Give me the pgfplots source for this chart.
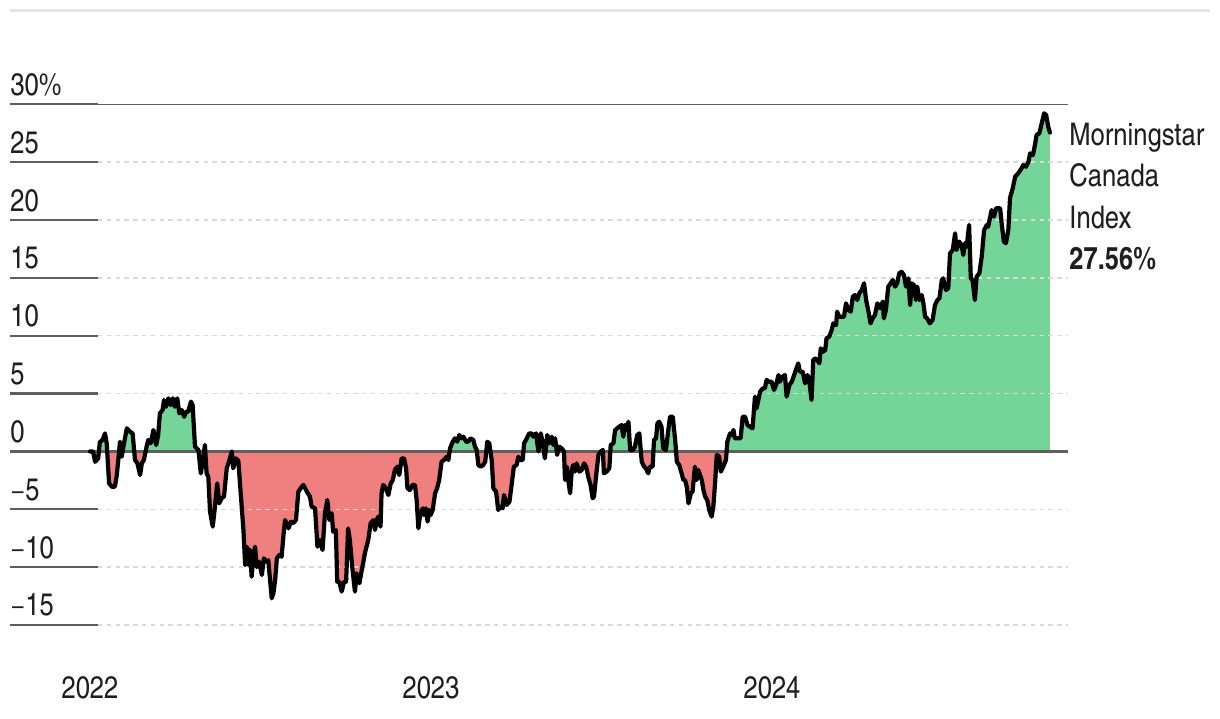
\documentclass[border=0pt]{standalone}
\usepackage{fontspec}
\setmainfont{texgyreheroscn}[Extension=.otf, UprightFont=*-regular, BoldFont=*-bold, ItalicFont=*-italic, BoldItalicFont=*-bolditalic]
\usepackage{pgfplots}
\pgfplotsset{compat=1.18}
\usepackage{pgfplotstable}
\definecolor{upgreen}{RGB}{117,212,152}
\definecolor{downred}{RGB}{240,128,128}
\definecolor{stubgray}{RGB}{95,95,95}
\definecolor{gridgray}{RGB}{218,218,218}
\definecolor{topgray}{RGB}{228,228,228}
\definecolor{txt}{RGB}{30,30,30}

\pgfplotstableread{
t v
2022.000 0.00
2022.009 0.00
2022.015 -0.90
2022.024 -0.60
2022.029 0.80
2022.037 0.99
2022.044 1.56
2022.049 0.70
2022.056 -2.76
2022.064 -3.05
2022.073 -3.05
2022.078 -2.18
2022.083 -0.74
2022.088 0.84
2022.093 -0.46
2022.098 0.41
2022.108 2.00
2022.117 1.70
2022.125 1.56
2022.132 -0.74
2022.139 -1.03
2022.147 -2.04
2022.152 -1.03
2022.158 -0.74
2022.166 0.41
2022.171 0.99
2022.178 0.70
2022.186 1.85
2022.194 0.55
2022.200 1.42
2022.205 3.29
2022.213 3.58
2022.217 4.44
2022.223 3.86
2022.230 4.59
2022.237 4.00
2022.243 4.59
2022.249 3.86
2022.256 4.59
2022.262 3.29
2022.269 3.58
2022.276 3.00
2022.282 3.43
2022.288 3.43
2022.296 4.30
2022.301 4.00
2022.308 0.41
2022.318 0.12
2022.325 -1.90
2022.330 -1.03
2022.337 0.55
2022.342 -1.90
2022.347 -2.18
2022.352 -5.20
2022.360 -6.50
2022.367 -4.63
2022.373 -2.76
2022.379 -4.49
2022.386 -4.05
2022.393 -3.90
2022.401 -1.46
2022.409 -0.74
2022.416 0.00
2022.420 -1.46
2022.428 -0.60
2022.435 -0.80
2022.442 -3.62
2022.450 -6.80
2022.455 -9.82
2022.460 -8.24
2022.464 -9.80
2022.469 -8.50
2022.474 -10.83
2022.479 -9.10
2022.484 -8.24
2022.489 -10.00
2022.496 -9.53
2022.504 -10.68
2022.510 -9.24
2022.518 -9.53
2022.523 -9.40
2022.528 -11.10
2022.533 -12.70
2022.538 -12.26
2022.543 -11.10
2022.548 -9.24
2022.555 -8.95
2022.562 -9.10
2022.567 -7.37
2022.572 -5.93
2022.582 -6.65
2022.589 -6.08
2022.596 -6.20
2022.604 -5.93
2022.611 -3.48
2022.621 -3.05
2022.626 -2.90
2022.636 -3.48
2022.645 -3.91
2022.650 -4.78
2022.660 -4.90
2022.667 -8.24
2022.674 -7.66
2022.682 -8.52
2022.689 -5.35
2022.696 -4.20
2022.702 -5.93
2022.709 -5.35
2022.713 -6.94
2022.721 -6.80
2022.725 -11.26
2022.731 -11.26
2022.738 -12.12
2022.745 -11.26
2022.751 -11.26
2022.757 -6.65
2022.762 -7.66
2022.770 -10.25
2022.777 -12.12
2022.782 -10.54
2022.790 -11.40
2022.797 -10.25
2022.801 -9.67
2022.806 -8.81
2022.816 -7.66
2022.823 -6.21
2022.831 -5.93
2022.836 -6.79
2022.841 -5.93
2022.845 -5.64
2022.852 -6.50
2022.855 -3.62
2022.860 -2.90
2022.868 -3.19
2022.875 -3.77
2022.882 -2.76
2022.888 -2.47
2022.894 -1.61
2022.901 -1.32
2022.907 -2.04
2022.914 -0.60
2022.921 -0.60
2022.927 -1.46
2022.931 -3.19
2022.938 -3.34
2022.946 -2.90
2022.953 -2.90
2022.958 -4.20
2022.963 -6.65
2022.968 -5.50
2022.976 -4.92
2022.979 -5.50
2022.985 -4.92
2022.990 -6.07
2022.995 -5.06
2022.999 -5.50
2023.005 -5.06
2023.012 -3.62
2023.018 -3.19
2023.024 -2.47
2023.031 -0.89
2023.038 -0.74
2023.046 -0.46
2023.051 -0.74
2023.056 0.27
2023.064 0.84
2023.070 1.13
2023.077 0.84
2023.083 1.42
2023.090 1.13
2023.095 1.27
2023.103 0.84
2023.109 0.84
2023.116 1.13
2023.124 0.99
2023.129 0.41
2023.134 0.12
2023.139 -1.18
2023.146 -1.32
2023.153 -1.18
2023.159 -0.89
2023.165 0.84
2023.171 0.70
2023.178 -0.74
2023.183 -3.19
2023.191 -3.48
2023.197 -5.06
2023.204 -4.78
2023.210 -4.92
2023.214 -3.77
2023.222 -4.63
2023.230 -4.35
2023.237 -2.76
2023.243 -1.32
2023.251 -1.18
2023.256 -0.46
2023.261 -0.74
2023.269 -0.74
2023.273 0.70
2023.281 1.13
2023.288 1.56
2023.295 1.56
2023.300 1.27
2023.308 1.56
2023.315 0.00
2023.322 1.56
2023.328 0.70
2023.334 -0.60
2023.341 1.42
2023.347 0.70
2023.354 1.27
2023.359 0.55
2023.364 1.13
2023.370 -0.30
2023.376 0.41
2023.383 0.27
2023.390 0.00
2023.393 -2.47
2023.398 -1.32
2023.403 -2.61
2023.408 -3.62
2023.413 -1.61
2023.417 -1.18
2023.422 -1.75
2023.427 -1.03
2023.435 -1.75
2023.442 -1.61
2023.449 -1.03
2023.455 -1.32
2023.461 -2.18
2023.468 -2.90
2023.474 -4.05
2023.478 -3.91
2023.484 -2.18
2023.491 -0.30
2023.498 0.00
2023.504 0.12
2023.507 -1.90
2023.515 -1.75
2023.523 -1.46
2023.527 0.55
2023.535 0.70
2023.540 1.85
2023.546 2.00
2023.552 2.14
2023.559 2.28
2023.564 1.27
2023.569 2.28
2023.574 1.85
2023.579 2.57
2023.584 0.12
2023.592 0.12
2023.598 0.41
2023.605 1.42
2023.611 1.56
2023.618 -0.89
2023.625 -1.32
2023.630 -1.46
2023.637 -1.90
2023.642 -1.32
2023.650 -1.32
2023.654 0.99
2023.660 1.13
2023.664 2.43
2023.669 2.57
2023.676 2.14
2023.681 0.27
2023.689 0.12
2023.696 1.85
2023.701 3.00
2023.709 3.00
2023.716 0.99
2023.721 -0.89
2023.728 -1.18
2023.735 -1.90
2023.740 -2.47
2023.745 -2.47
2023.750 -3.05
2023.755 -4.49
2023.762 -3.62
2023.767 -3.48
2023.774 -1.32
2023.779 -2.47
2023.784 -1.61
2023.789 -2.04
2023.794 -2.47
2023.799 -3.34
2023.804 -3.91
2023.810 -4.20
2023.816 -5.06
2023.823 -5.64
2023.828 -4.78
2023.833 -2.76
2023.838 -0.30
2023.845 -0.44
2023.850 -1.75
2023.857 -1.32
2023.865 -0.74
2023.869 0.84
2023.877 1.56
2023.882 1.42
2023.887 1.85
2023.891 1.13
2023.901 1.13
2023.908 1.13
2023.914 3.00
2023.921 3.00
2023.928 2.28
2023.935 2.14
2023.943 1.99
2023.950 4.73
2023.955 3.72
2023.960 4.44
2023.965 5.16
2023.973 5.45
2023.979 5.45
2023.984 6.17
2023.992 6.02
2023.999 6.02
2024.006 5.31
2024.012 5.74
2024.019 6.60
2024.023 6.02
2024.031 6.46
2024.038 6.60
2024.043 4.73
2024.051 5.74
2024.058 6.02
2024.065 6.60
2024.070 7.04
2024.077 7.61
2024.082 6.89
2024.090 6.89
2024.097 5.88
2024.104 6.60
2024.109 6.17
2024.116 4.44
2024.121 7.90
2024.126 8.04
2024.133 7.90
2024.139 7.61
2024.143 8.91
2024.150 8.62
2024.156 8.76
2024.160 9.78
2024.168 9.92
2024.175 10.49
2024.180 11.07
2024.188 10.92
2024.191 12.08
2024.197 11.64
2024.204 11.64
2024.211 11.64
2024.217 12.80
2024.224 12.22
2024.231 12.08
2024.237 13.37
2024.243 13.52
2024.250 13.08
2024.256 13.66
2024.263 13.95
2024.270 14.53
2024.276 13.08
2024.282 12.22
2024.289 11.07
2024.295 11.50
2024.302 11.79
2024.309 12.80
2024.317 12.37
2024.325 12.95
2024.328 11.50
2024.334 12.22
2024.341 14.24
2024.348 14.53
2024.354 14.81
2024.361 14.24
2024.367 14.53
2024.373 15.39
2024.380 15.53
2024.387 15.24
2024.393 14.24
2024.400 14.96
2024.405 12.65
2024.410 14.53
2024.416 14.38
2024.422 13.08
2024.426 14.24
2024.432 13.08
2024.439 13.52
2024.444 12.80
2024.449 11.64
2024.455 11.50
2024.463 11.07
2024.471 11.36
2024.478 12.65
2024.485 13.08
2024.491 13.23
2024.498 14.81
2024.502 14.96
2024.510 13.95
2024.517 14.10
2024.522 17.12
2024.530 17.41
2024.537 18.85
2024.541 17.41
2024.549 18.13
2024.556 17.84
2024.561 16.98
2024.566 17.99
2024.571 17.70
2024.578 19.57
2024.583 14.96
2024.588 14.81
2024.595 13.08
2024.600 15.10
2024.608 15.39
2024.615 16.83
2024.622 19.13
2024.630 19.57
2024.634 19.42
2024.639 20.15
2024.644 20.86
2024.651 20.29
2024.657 21.01
2024.664 21.01
2024.669 21.01
2024.674 19.57
2024.680 18.13
2024.686 17.99
2024.693 19.13
2024.698 21.90
2024.706 22.74
2024.713 23.74
2024.722 24.04
2024.729 24.33
2024.737 24.75
2024.745 24.60
2024.752 25.04
2024.757 25.76
2024.765 25.60
2024.771 26.48
2024.776 27.35
2024.784 27.49
2024.791 28.36
2024.798 29.22
2024.804 29.08
2024.810 28.07
2024.815 27.56
}\indexdata

\pgfplotsset{fillaxis/.style={
  x=170.5pt, y=5.785pt,
  xmin=2021.7361, xmax=2025.3138,
  hide axis, clip=true, anchor=south west}}

\begin{document}
\begin{tikzpicture}
% green area above zero (clipped by an axis that spans y >= 0)
\begin{axis}[fillaxis, ymin=0, ymax=39.015, at={(0pt,133.304pt)}]
\addplot[fill=upgreen, draw=none] table[x=t, y=v] {\indexdata} \closedcycle;
\end{axis}
% red area below zero (clipped by an axis that spans y <= 0)
\begin{axis}[fillaxis, ymin=-23.043, ymax=0, at={(0pt,0pt)}]
\addplot[fill=downred, draw=none] table[x=t, y=v] {\indexdata} \closedcycle;
\end{axis}

\begin{axis}[
  x=170.5pt, y=5.785pt,
  xmin=2021.7361, xmax=2025.3138,
  ymin=-23.043, ymax=39.015,
  at={(0pt,0pt)}, anchor=south west,
  clip=false,
  axis line style={draw=none},
  major tick length=0pt,
  tick style={draw=none},
  xtick={2022,2023,2024},
  xticklabels={2022,2023,2024},
  ytick={-15,-10,-5,0,5,10,15,20,25,30},
  yticklabels={−15,−10,−5,0,5,10,15,20,25,30\%},
  tick label style={font=\fontsize{15.6}{18}\selectfont, text=txt, inner sep=0pt},
  yticklabel style={anchor=base west, xshift=5pt, yshift=4.5pt},
  xticklabel style={anchor=base, yshift=10pt},
]
\path (axis cs:2021.7361,-23.043) rectangle (axis cs:2025.3138,39.015);

% top rule
\draw[topgray, line width=1.2pt] (axis cs:2021.7654,38.09) -- (axis cs:2025.2845,38.09);
% dashed grid
\foreach \yy in {-15,-10,-5,5,10,15,20,25} {
  \edef\temp{\noexpand\draw[gridgray, line width=0.7pt, dash pattern=on 2.2pt off 2.2pt] (axis cs:2022.0235,\yy) -- (axis cs:2024.868,\yy);}
  \temp
}
% stubs
\foreach \yy in {-15,-10,-5,0,5,10,15,20,25,30} {
  \edef\temp{\noexpand\draw[stubgray, line width=1.1pt] (axis cs:2021.7654,\yy) -- (axis cs:2022.0235,\yy);}
  \temp
}
\draw[stubgray, line width=0.6pt] (axis cs:2022.0235,30) -- (axis cs:2024.868,30);
\draw[stubgray, line width=1.1pt] (axis cs:2022.0235,0) -- (axis cs:2024.868,0);

\addplot[black, line width=2.1pt, line join=round, line cap=round] table[x=t, y=v] {\indexdata};

\begin{scope}[every node/.style={anchor=base west, inner sep=0pt, text=txt, font=\fontsize{15.6}{18}\selectfont}]
\node at (axis cs:2024.871,26.48) {Morningstar};
\node at (axis cs:2024.871,22.88) {Canada};
\node at (axis cs:2024.871,19.28) {Index};
\node at (axis cs:2024.871,15.68) {\bfseries 27.56\%};
\end{scope}
\end{axis}
\end{tikzpicture}
\end{document}
